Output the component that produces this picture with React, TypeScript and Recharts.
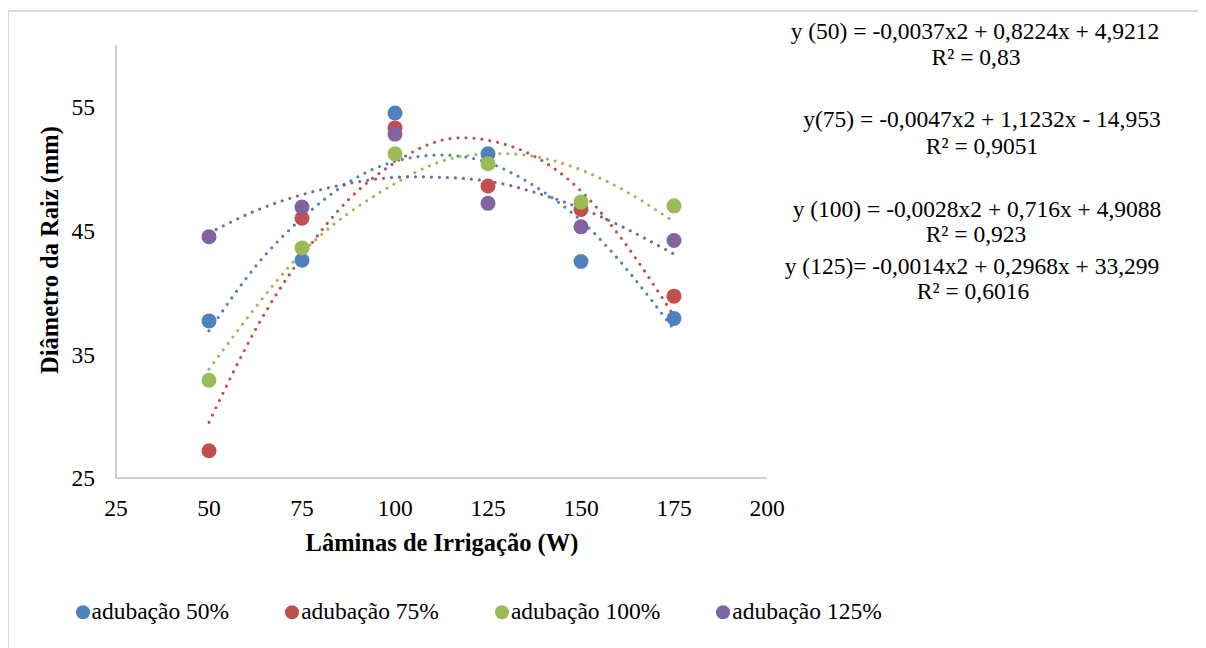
import React from "react";
import { ComposedChart, Scatter, Line, XAxis, YAxis } from "recharts";

// irrigation depths (W) where the samples were taken
const X_VALUES = [50, 75, 100, 125, 150, 175];

// root diameter (mm) per fertilisation level
const ADUB_50 = [37.7, 42.6, 54.5, 51.2, 42.5, 37.9];
const ADUB_75 = [27.2, 46.0, 53.3, 48.6, 46.7, 39.7];
const ADUB_100 = [32.9, 43.6, 51.2, 50.4, 47.3, 47.0];
const ADUB_125 = [44.5, 46.9, 52.8, 47.2, 45.3, 44.2];

// dotted polynomial trendlines
const TREND_X = [50, 62.5, 75, 87.5, 100, 112.5, 125, 137.5, 150, 162.5, 175];
const TREND_50 = [36.9, 42.1, 46.0, 48.9, 50.6, 51.1, 50.5, 48.6, 45.8, 41.8, 37.0];
const TREND_75 = [29.5, 37.0, 42.9, 47.5, 50.5, 52.3, 52.3, 51.0, 48.2, 43.7, 38.1];
const TREND_100 = [33.8, 38.8, 43.2, 46.4, 48.8, 50.6, 51.2, 51.0, 49.9, 48.1, 45.7];
const TREND_125 = [44.8, 46.6, 47.9, 48.8, 49.3, 49.3, 49.0, 48.1, 46.8, 45.1, 43.1];

const X_TICKS = [25, 50, 75, 100, 125, 150, 175, 200];
const Y_TICKS = [25, 35, 45, 55];

const SERIES_NAMES = ["adubação 50%", "adubação 75%", "adubação 100%", "adubação 125%"];

const EQUATIONS = [
  "y (50) = -0,0037x2 + 0,8224x + 4,9212",
  "R² = 0,83",
  "y(75) = -0,0047x2 + 1,1232x - 14,953",
  "R² = 0,9051",
  "y (100) = -0,0028x2 + 0,716x + 4,9088",
  "R² = 0,923",
  "y (125)= -0,0014x2 + 0,2968x + 33,299",
  "R² = 0,6016",
];

const COLORS = ["#4f81bd", "#c0504d", "#9bbb59", "#8064a2"];
const FONT = "'Liberation Serif', 'Times New Roman', serif";

// centre of each equation line, in wrapper coordinates
const EQ_POS = [
  [967, 24],
  [968, 50],
  [974, 112],
  [974, 139],
  [969, 202],
  [968, 227],
  [964, 259],
  [965, 284],
];

const toPoints = (xs: number[], ys: number[]) => xs.map((x, i) => ({ x, y: ys[i] }));

const series = [ADUB_50, ADUB_75, ADUB_100, ADUB_125].map((vals, i) => ({
  name: SERIES_NAMES[i],
  color: COLORS[i],
  points: toPoints(X_VALUES, vals),
}));

const trends = [TREND_50, TREND_75, TREND_100, TREND_125].map((vals, i) => ({
  color: COLORS[i],
  points: toPoints(TREND_X, vals),
}));

const tickStyle = { fill: "#000", fontSize: 23.5, fontFamily: FONT };

export default function App() {
  return (
    <div style={{ position: "relative", width: 1198, height: 640, fontFamily: FONT, color: "#000" }}>
      <div
        style={{
          position: "absolute",
          left: -1,
          top: 2,
          width: 1200,
          height: 640,
          borderLeft: "2px solid #d9d9d9",
          borderTop: "2px solid #d9d9d9",
          boxSizing: "border-box",
        }}
      />
      <ComposedChart
        width={1198}
        height={640}
        margin={{ top: 37, right: 439, bottom: 110, left: 48 }}
        style={{ position: "absolute", left: 0, top: 0 }}
      >
        <XAxis
          type="number"
          dataKey="x"
          domain={[25, 200]}
          ticks={X_TICKS}
          height={60}
          axisLine={{ stroke: "#bfbfbf", strokeWidth: 1.5 }}
          tickLine={false}
          tickSize={0}
          tickMargin={21}
          tick={tickStyle}
          interval={0}
        />
        <YAxis
          type="number"
          dataKey="y"
          domain={[25, 60]}
          ticks={Y_TICKS}
          width={60}
          axisLine={{ stroke: "#bfbfbf", strokeWidth: 1.5 }}
          tickLine={false}
          tickSize={0}
          tickMargin={21}
          tick={tickStyle}
          interval={0}
        />
        {series.map((s) => (
          <Scatter
            key={s.name}
            name={s.name}
            data={s.points}
            dataKey="y"
            fill={s.color}
            isAnimationActive={false}
            shape={(p: any) => <circle cx={p.cx} cy={p.cy} r={7.5} fill={s.color} />}
          />
        ))}
        {trends.map((t, i) => (
          <Line
            key={`trend-${i}`}
            data={t.points}
            dataKey="y"
            type="natural"
            stroke={t.color}
            strokeWidth={3.2}
            strokeDasharray="0 8"
            strokeLinecap="round"
            dot={false}
            activeDot={false}
            legendType="none"
            isAnimationActive={false}
          />
        ))}
      </ComposedChart>

      <div
        style={{
          position: "absolute",
          left: 434,
          top: 535,
          transform: "translate(-50%, -50%)",
          whiteSpace: "nowrap",
          fontSize: 24.5,
          fontWeight: "bold",
          lineHeight: 1,
        }}
      >
        Lâminas de Irrigação (W)
      </div>
      <div
        style={{
          position: "absolute",
          left: 42,
          top: 242,
          transform: "translate(-50%, -50%) rotate(-90deg)",
          whiteSpace: "nowrap",
          fontSize: 24.5,
          fontWeight: "bold",
          lineHeight: 1,
        }}
      >
        Diâmetro da Raiz (mm)
      </div>

      {EQUATIONS.map((eq, i) => (
        <div
          key={i}
          style={{
            position: "absolute",
            left: EQ_POS[i][0],
            top: EQ_POS[i][1],
            transform: "translate(-50%, -50%)",
            whiteSpace: "nowrap",
            fontSize: 23.5,
            lineHeight: 1,
          }}
        >
          {eq}
        </div>
      ))}

      <div
        style={{
          position: "absolute",
          left: 67.5,
          top: 604,
          transform: "translateY(-50%)",
          display: "flex",
          alignItems: "center",
          fontSize: 23.5,
          lineHeight: 1,
          whiteSpace: "nowrap",
        }}
      >
        {series.map((s) => (
          <div key={s.name} style={{ display: "flex", alignItems: "center", marginRight: 56 }}>
            <span
              style={{
                display: "inline-block",
                width: 14,
                height: 14,
                borderRadius: "50%",
                background: s.color,
                marginRight: 2,
              }}
            />
            <span>{s.name}</span>
          </div>
        ))}
      </div>
    </div>
  );
}
